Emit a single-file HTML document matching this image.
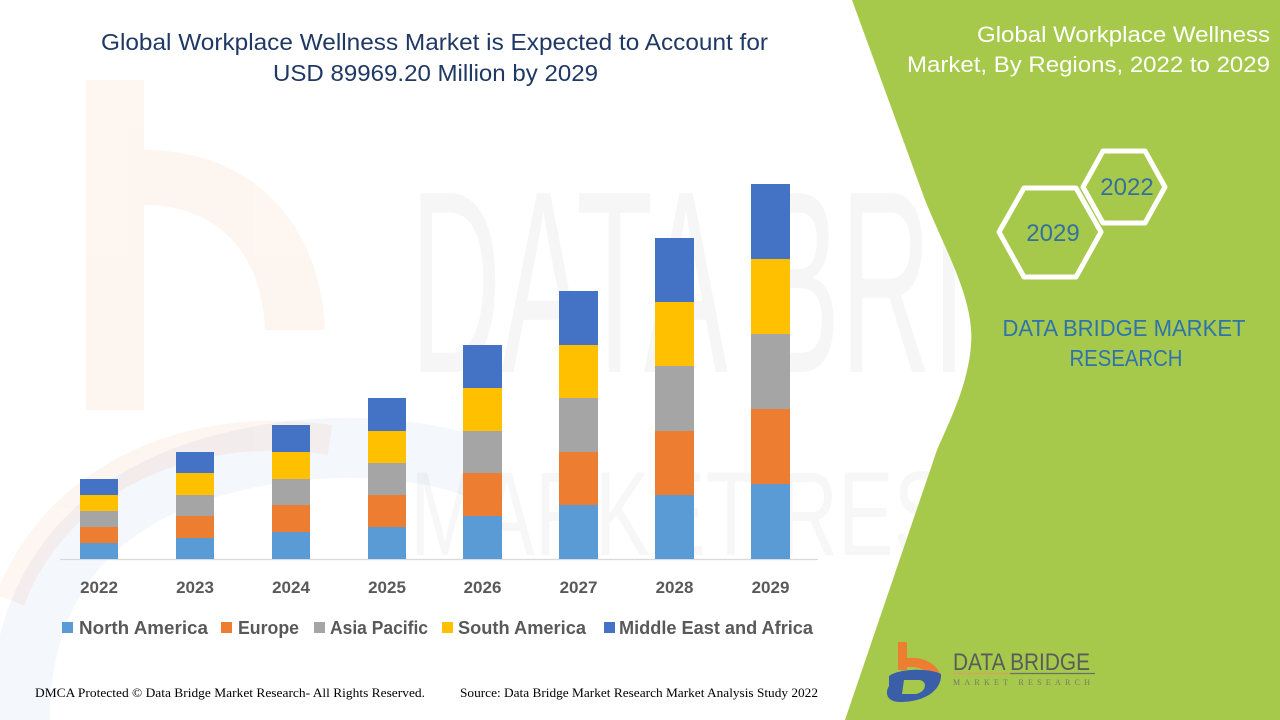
<!DOCTYPE html>
<html>
<head>
<meta charset="utf-8">
<style>
html,body{margin:0;padding:0;background:#fff;}
svg{display:block;}
</style>
</head>
<body>
<svg width="1280" height="720" viewBox="0 0 1280 720" xmlns="http://www.w3.org/2000/svg">
  <rect x="0" y="0" width="1280" height="720" fill="#ffffff"/>

  <!-- faint watermark logo (left) -->
  <g opacity="0.07">
    <rect x="86" y="80" width="58" height="330" fill="#ed7d31"/>
    <path d="M144,150 C250,150 320,220 325,330 L265,330 C262,250 215,205 144,205 Z" fill="#ed7d31"/>
    <path d="M10,600 C60,470 200,420 330,440" fill="none" stroke="#ed7d31" stroke-width="30"/>
  </g>
  <g opacity="0.06">
    <path d="M20,720 C20,560 120,470 300,450 C420,440 480,470 480,470" fill="none" stroke="#4472c4" stroke-width="60"/>
  </g>

  <!-- faint watermark text -->
  <text x="410" y="372" font-family="Liberation Sans, sans-serif" font-size="260" fill="#000" fill-opacity="0.035" textLength="830" lengthAdjust="spacingAndGlyphs">DATA BRIDGE</text>
  <text x="410" y="555" font-family="Liberation Sans, sans-serif" font-size="120" fill="#000" fill-opacity="0.03" textLength="830" lengthAdjust="spacingAndGlyphs">MARKET RESEARCH</text>

  <!-- green panel -->
  <path d="M852,0 L925,200 C945,250 975,300 971,345 C968,385 950,420 937,450 L845,720 L1280,720 L1280,0 Z" fill="#a6c94b"/>

  <!-- main title -->
  <g font-family="Liberation Sans, sans-serif" font-size="23" fill="#1f3864" text-anchor="middle">
    <text x="434.5" y="50" textLength="667" lengthAdjust="spacingAndGlyphs">Global Workplace Wellness Market is Expected to Account for</text>
    <text x="435.5" y="81" textLength="325" lengthAdjust="spacingAndGlyphs">USD 89969.20 Million by 2029</text>
  </g>

  <!-- axis line -->
  <line x1="60" y1="559.5" x2="818" y2="559.5" stroke="#d9d9d9" stroke-width="1.2"/>

  <!-- bars -->
  <g>
    <!-- 2022 -->
    <rect x="80" y="543" width="38" height="16" fill="#5b9bd5"/>
    <rect x="80" y="527" width="38" height="16" fill="#ed7d31"/>
    <rect x="80" y="511" width="38" height="16" fill="#a5a5a5"/>
    <rect x="80" y="495" width="38" height="16" fill="#ffc000"/>
    <rect x="80" y="479" width="38" height="16" fill="#4472c4"/>
    <!-- 2023 -->
    <rect x="176" y="538" width="38" height="21" fill="#5b9bd5"/>
    <rect x="176" y="516" width="38" height="22" fill="#ed7d31"/>
    <rect x="176" y="495" width="38" height="21" fill="#a5a5a5"/>
    <rect x="176" y="473" width="38" height="22" fill="#ffc000"/>
    <rect x="176" y="452" width="38" height="21" fill="#4472c4"/>
    <!-- 2024 -->
    <rect x="272" y="532" width="38" height="27" fill="#5b9bd5"/>
    <rect x="272" y="505" width="38" height="27" fill="#ed7d31"/>
    <rect x="272" y="479" width="38" height="26" fill="#a5a5a5"/>
    <rect x="272" y="452" width="38" height="27" fill="#ffc000"/>
    <rect x="272" y="425" width="38" height="27" fill="#4472c4"/>
    <!-- 2025 -->
    <rect x="368" y="527" width="38" height="32" fill="#5b9bd5"/>
    <rect x="368" y="495" width="38" height="32" fill="#ed7d31"/>
    <rect x="368" y="463" width="38" height="32" fill="#a5a5a5"/>
    <rect x="368" y="431" width="38" height="32" fill="#ffc000"/>
    <rect x="368" y="398" width="38" height="33" fill="#4472c4"/>
    <!-- 2026 -->
    <rect x="463" y="516" width="39" height="43" fill="#5b9bd5"/>
    <rect x="463" y="473" width="39" height="43" fill="#ed7d31"/>
    <rect x="463" y="431" width="39" height="42" fill="#a5a5a5"/>
    <rect x="463" y="388" width="39" height="43" fill="#ffc000"/>
    <rect x="463" y="345" width="39" height="43" fill="#4472c4"/>
    <!-- 2027 -->
    <rect x="559" y="505" width="39" height="54" fill="#5b9bd5"/>
    <rect x="559" y="452" width="39" height="53" fill="#ed7d31"/>
    <rect x="559" y="398" width="39" height="54" fill="#a5a5a5"/>
    <rect x="559" y="345" width="39" height="53" fill="#ffc000"/>
    <rect x="559" y="291" width="39" height="54" fill="#4472c4"/>
    <!-- 2028 -->
    <rect x="655" y="495" width="39" height="64" fill="#5b9bd5"/>
    <rect x="655" y="431" width="39" height="64" fill="#ed7d31"/>
    <rect x="655" y="366" width="39" height="65" fill="#a5a5a5"/>
    <rect x="655" y="302" width="39" height="64" fill="#ffc000"/>
    <rect x="655" y="238" width="39" height="64" fill="#4472c4"/>
    <!-- 2029 -->
    <rect x="751" y="484" width="39" height="75" fill="#5b9bd5"/>
    <rect x="751" y="409" width="39" height="75" fill="#ed7d31"/>
    <rect x="751" y="334" width="39" height="75" fill="#a5a5a5"/>
    <rect x="751" y="259" width="39" height="75" fill="#ffc000"/>
    <rect x="751" y="184" width="39" height="75" fill="#4472c4"/>
  </g>

  <!-- year labels -->
  <g font-family="Liberation Sans, sans-serif" font-size="17" font-weight="bold" fill="#595959" text-anchor="middle">
    <text x="99" y="593">2022</text>
    <text x="195" y="593">2023</text>
    <text x="291" y="593">2024</text>
    <text x="387" y="593">2025</text>
    <text x="482.5" y="593">2026</text>
    <text x="578.5" y="593">2027</text>
    <text x="674.5" y="593">2028</text>
    <text x="770.5" y="593">2029</text>
  </g>

  <!-- legend -->
  <g font-family="Liberation Sans, sans-serif" font-size="18" font-weight="bold" fill="#595959">
    <rect x="62" y="622" width="11" height="11" fill="#5b9bd5"/>
    <text x="79" y="634" textLength="129" lengthAdjust="spacingAndGlyphs">North America</text>
    <rect x="221" y="622" width="11" height="11" fill="#ed7d31"/>
    <text x="238" y="634" textLength="61" lengthAdjust="spacingAndGlyphs">Europe</text>
    <rect x="314" y="622" width="11" height="11" fill="#a5a5a5"/>
    <text x="330" y="634" textLength="98" lengthAdjust="spacingAndGlyphs">Asia Pacific</text>
    <rect x="442" y="622" width="11" height="11" fill="#ffc000"/>
    <text x="458" y="634" textLength="128" lengthAdjust="spacingAndGlyphs">South America</text>
    <rect x="604" y="622" width="11" height="11" fill="#4472c4"/>
    <text x="619" y="634" textLength="194" lengthAdjust="spacingAndGlyphs">Middle East and Africa</text>
  </g>

  <!-- footer -->
  <g font-family="Liberation Serif, serif" font-size="13" fill="#000">
    <text x="35" y="697" textLength="390" lengthAdjust="spacingAndGlyphs">DMCA Protected © Data Bridge Market Research- All Rights Reserved.</text>
    <text x="460" y="697" textLength="358" lengthAdjust="spacingAndGlyphs">Source: Data Bridge Market Research Market Analysis Study 2022</text>
  </g>

  <!-- right panel title -->
  <g font-family="Liberation Sans, sans-serif" font-size="22" fill="#ffffff" text-anchor="end">
    <text x="1270" y="42" textLength="293" lengthAdjust="spacingAndGlyphs">Global Workplace Wellness</text>
    <text x="1270" y="72" textLength="363" lengthAdjust="spacingAndGlyphs">Market, By Regions, 2022 to 2029</text>
  </g>

  <!-- hexagons -->
  <g fill="none" stroke="#ffffff" stroke-width="5" stroke-linejoin="round">
    <polygon points="1083,187 1103,151 1145,151 1165,187 1145,223 1103,223"/>
    <polygon points="999,232 1024,188 1076,188 1101,232 1076,277 1024,277"/>
  </g>
  <g font-family="Liberation Sans, sans-serif" font-size="24" fill="#35709e" text-anchor="middle">
    <text x="1127" y="195">2022</text>
    <text x="1053" y="241">2029</text>
  </g>

  <!-- DATA BRIDGE MARKET RESEARCH -->
  <g font-family="Liberation Sans, sans-serif" font-size="23" fill="#2e73ad" text-anchor="middle">
    <text x="1124" y="336" textLength="243" lengthAdjust="spacingAndGlyphs">DATA BRIDGE MARKET</text>
    <text x="1126" y="366" textLength="113" lengthAdjust="spacingAndGlyphs">RESEARCH</text>
  </g>

  <!-- bottom logo -->
  <g>
    <rect x="898" y="642" width="9" height="28" fill="#ed7d31"/>
    <path d="M898,660 C915,654 936,660 941,676 L930,676 C926,668 914,665 898,668 Z" fill="#ed7d31"/>
    <path d="M889,676 C900,668 930,668 941,674 C942,690 925,702 900,702 C888,702 884,694 889,686 Z" fill="#3b5ea8"/>
    <path d="M904,680 L920,680 C928,682 926,692 916,694 L902,694 Z" fill="#a6c94b"/>
    <text x="953" y="670" font-family="Liberation Sans, sans-serif" font-size="24" fill="#5b5b5b" textLength="137" lengthAdjust="spacingAndGlyphs">DATA BRIDGE</text>
    <line x1="953" y1="673.5" x2="1010" y2="673.5" stroke="#d9a060" stroke-width="1.2"/>
    <line x1="1010" y1="673.5" x2="1095" y2="673.5" stroke="#6d6d6d" stroke-width="1.2"/>
    <text x="953" y="685" font-family="Liberation Serif, serif" font-size="8" fill="#777777" textLength="137" lengthAdjust="spacing">MARKET RESEARCH</text>
  </g>
</svg>
</body>
</html>
